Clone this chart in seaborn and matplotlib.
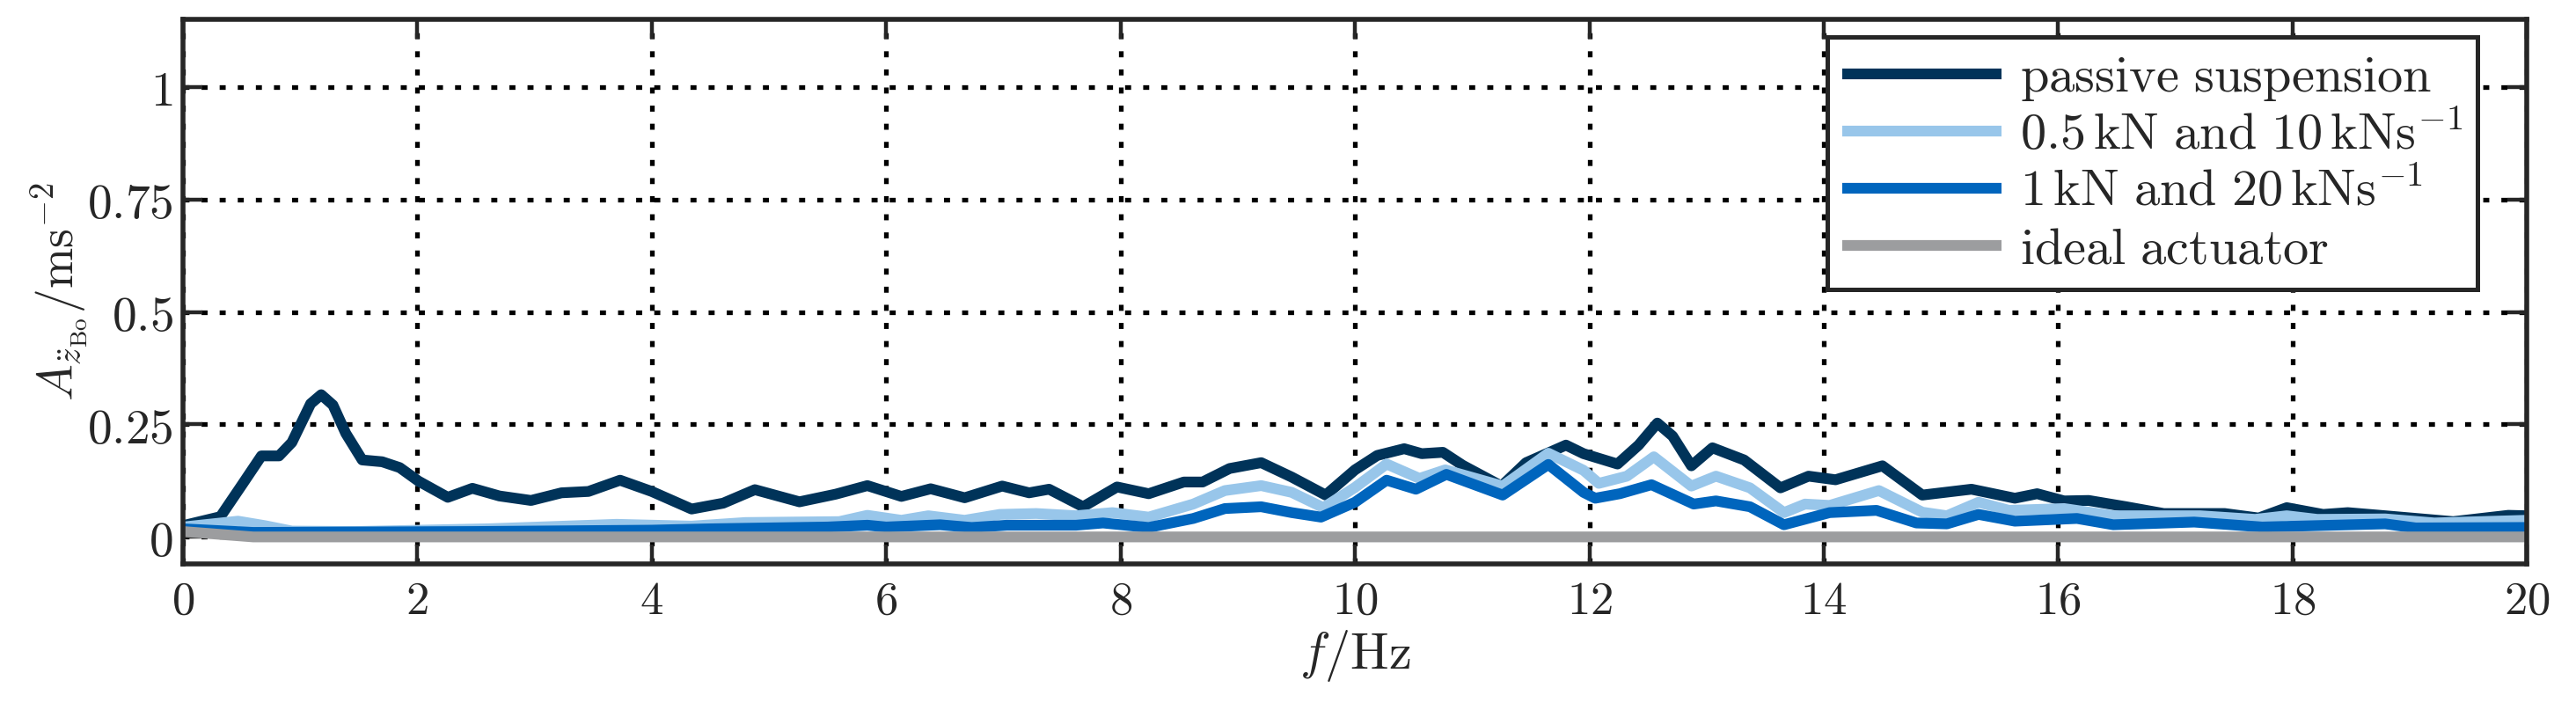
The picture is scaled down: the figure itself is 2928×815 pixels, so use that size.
import numpy as np
import pandas as pd
import matplotlib
matplotlib.use("Agg")
import matplotlib.pyplot as plt
import seaborn as sns

# ---------------- data ----------------
passive_f = [0, 0.32, 0.51, 0.67, 0.82, 0.93, 1.09, 1.18, 1.28, 1.39, 1.53, 1.70, 1.85, 2.01,
             2.26, 2.47, 2.70, 2.97, 3.23, 3.46, 3.73, 4.0, 4.34, 4.61, 4.88, 5.26, 5.57, 5.84,
             6.13, 6.38, 6.67, 6.99, 7.22, 7.39, 7.68, 7.97, 8.24, 8.54, 8.70, 8.93, 9.20, 9.46,
             9.75, 10.0, 10.19, 10.42, 10.57, 10.75, 10.92, 11.25, 11.46, 11.8, 11.95, 12.24,
             12.42, 12.58, 12.71, 12.87, 13.05, 13.32, 13.63, 13.87, 14.1, 14.5, 14.84, 15.26,
             15.63, 15.82, 16.05, 16.26, 16.58, 16.9, 17.42, 17.71, 17.95, 18.26, 18.47, 18.79,
             19.37, 19.84, 20.0]
passive_a = [0.025, 0.045, 0.118, 0.18, 0.18, 0.21, 0.296, 0.316, 0.293, 0.23, 0.171, 0.167,
             0.154, 0.124, 0.088, 0.108, 0.091, 0.081, 0.098, 0.101, 0.126, 0.101, 0.062, 0.075,
             0.105, 0.078, 0.095, 0.114, 0.09, 0.107, 0.087, 0.113, 0.098, 0.106, 0.067, 0.111,
             0.096, 0.122, 0.122, 0.152, 0.165, 0.133, 0.093, 0.149, 0.181, 0.196, 0.185, 0.188,
             0.159, 0.113, 0.165, 0.204, 0.185, 0.162, 0.204, 0.253, 0.224, 0.158, 0.198, 0.171,
             0.109, 0.135, 0.127, 0.158, 0.093, 0.106, 0.086, 0.096, 0.08, 0.081, 0.067, 0.052,
             0.052, 0.042, 0.065, 0.05, 0.054, 0.047, 0.034, 0.048, 0.047]

act05_f = [0, 0.47, 0.7, 0.93, 1.47, 2.6, 3.7, 4.34, 4.8, 5.6, 5.84, 6.13, 6.36, 6.67, 6.97,
           7.28, 7.62, 7.93, 8.24, 8.62, 8.89, 9.2, 9.46, 9.73, 10.0, 10.27, 10.55, 10.77,
           11.26, 11.65, 11.95, 12.08, 12.32, 12.55, 12.87, 13.08, 13.37, 13.66, 13.84, 14.05,
           14.47, 14.84, 15.05, 15.32, 15.58, 16.05, 16.47, 17.21, 17.68, 17.95, 18.21, 18.79,
           19.21, 20.0]
act05_a = [0.022, 0.035, 0.025, 0.013, 0.012, 0.018, 0.028, 0.024, 0.032, 0.034, 0.048, 0.037,
           0.047, 0.037, 0.05, 0.052, 0.047, 0.054, 0.044, 0.073, 0.103, 0.114, 0.099, 0.065,
           0.11, 0.162, 0.13, 0.149, 0.113, 0.186, 0.148, 0.119, 0.135, 0.178, 0.113, 0.135,
           0.109, 0.054, 0.073, 0.07, 0.103, 0.055, 0.047, 0.077, 0.059, 0.063, 0.047, 0.047,
           0.039, 0.047, 0.039, 0.04, 0.031, 0.037]

act1_f = [0, 0.6, 2.5, 4.0, 4.5, 5.5, 5.84, 6.0, 6.46, 6.73, 7.03, 7.62, 7.85, 8.24, 8.62,
          8.89, 9.2, 9.46, 9.71, 10.0, 10.27, 10.52, 10.78, 11.26, 11.65, 11.95, 12.05, 12.26,
          12.53, 12.89, 13.08, 13.37, 13.66, 14.05, 14.45, 14.79, 15.05, 15.32, 15.63, 16.16,
          16.47, 17.16, 17.74, 18.79, 19.05, 20.0]
act1_a = [0.018, 0.01, 0.012, 0.015, 0.018, 0.022, 0.026, 0.022, 0.027, 0.021, 0.026, 0.026,
          0.031, 0.021, 0.041, 0.063, 0.067, 0.054, 0.044, 0.077, 0.126, 0.106, 0.139, 0.093,
          0.161, 0.099, 0.086, 0.096, 0.116, 0.073, 0.08, 0.067, 0.027, 0.054, 0.059, 0.031,
          0.029, 0.05, 0.035, 0.041, 0.027, 0.033, 0.022, 0.029, 0.02, 0.021]

ideal_f = [0, 0.3, 0.6, 20.0]
ideal_a = [0.012, 0.006, 0.0, 0.0]

labels = [r'$\mathrm{passive\ suspension}$',
          r'$0.5\,\mathrm{kN\ and\ }10\,\mathrm{kNs}^{-1}$',
          r'$1\,\mathrm{kN\ and\ }20\,\mathrm{kNs}^{-1}$',
          r'$\mathrm{ideal\ actuator}$']
colors = ['#003359', '#98C6EA', '#0065BD', '#9C9D9F']

x_ticks = [0, 2, 4, 6, 8, 10, 12, 14, 16, 18, 20]
y_ticks = [0, 0.25, 0.5, 0.75, 1]
y_tick_labels = ['0', '0.25', '0.5', '0.75', '1']

# ---------------- style ----------------
sns.set_theme(style='white')
plt.rcParams['font.family'] = ['DejaVu Serif']
plt.rcParams['mathtext.fontset'] = 'cm'
plt.rcParams['axes.edgecolor'] = '#262626'

fig = plt.figure(figsize=(14.64, 4.075), dpi=200)
ax = fig.add_axes([0.071, 0.2135, 0.91, 0.7595])

series = [(passive_f, passive_a), (act05_f, act05_a), (act1_f, act1_a), (ideal_f, ideal_a)]
for (f, a), lab, c in zip(series, labels, colors):
    sns.lineplot(x=f, y=a, ax=ax, color=c, linewidth=4.4, label=lab,
                 sort=False, estimator=None, solid_joinstyle='round', solid_capstyle='butt')

ax.set_xlim(0, 20)
ax.set_ylim(-0.06, 1.15)
ax.set_xticks(x_ticks)
ax.set_xticklabels([r'$%d$' % t for t in x_ticks], fontsize=19)
ax.set_yticks(y_ticks)
ax.set_yticklabels([r'$%s$' % t for t in y_tick_labels], fontsize=20)

ax.grid(True, which='major', color='black', linestyle=(0, (1.3, 2.6)), linewidth=1.9)
ax.tick_params(direction='in', length=8, width=1.6, colors='#262626',
               top=True, right=True, bottom=True, left=True)
ax.tick_params(axis='x', pad=6)
ax.tick_params(axis='y', pad=4)
for s in ax.spines.values():
    s.set_linewidth(2.0)
    s.set_color('#262626')

ax.set_xlabel(r'$f/\mathrm{Hz}$', fontsize=21, labelpad=2)
ax.set_ylabel(r'$A_{\ddot{z}_{\mathrm{Bo}}}/\mathrm{ms}^{-2}$', fontsize=20, labelpad=-1)

leg = ax.legend(loc='upper right', bbox_to_anchor=(0.979, 0.967), fontsize=21,
                frameon=True, fancybox=False, framealpha=1, edgecolor='#262626',
                handlelength=3.1, handletextpad=0.35, labelspacing=0.15, borderpad=0.3,
                borderaxespad=0)
leg.get_frame().set_linewidth(1.8)

fig.savefig('out.png', dpi=200)
